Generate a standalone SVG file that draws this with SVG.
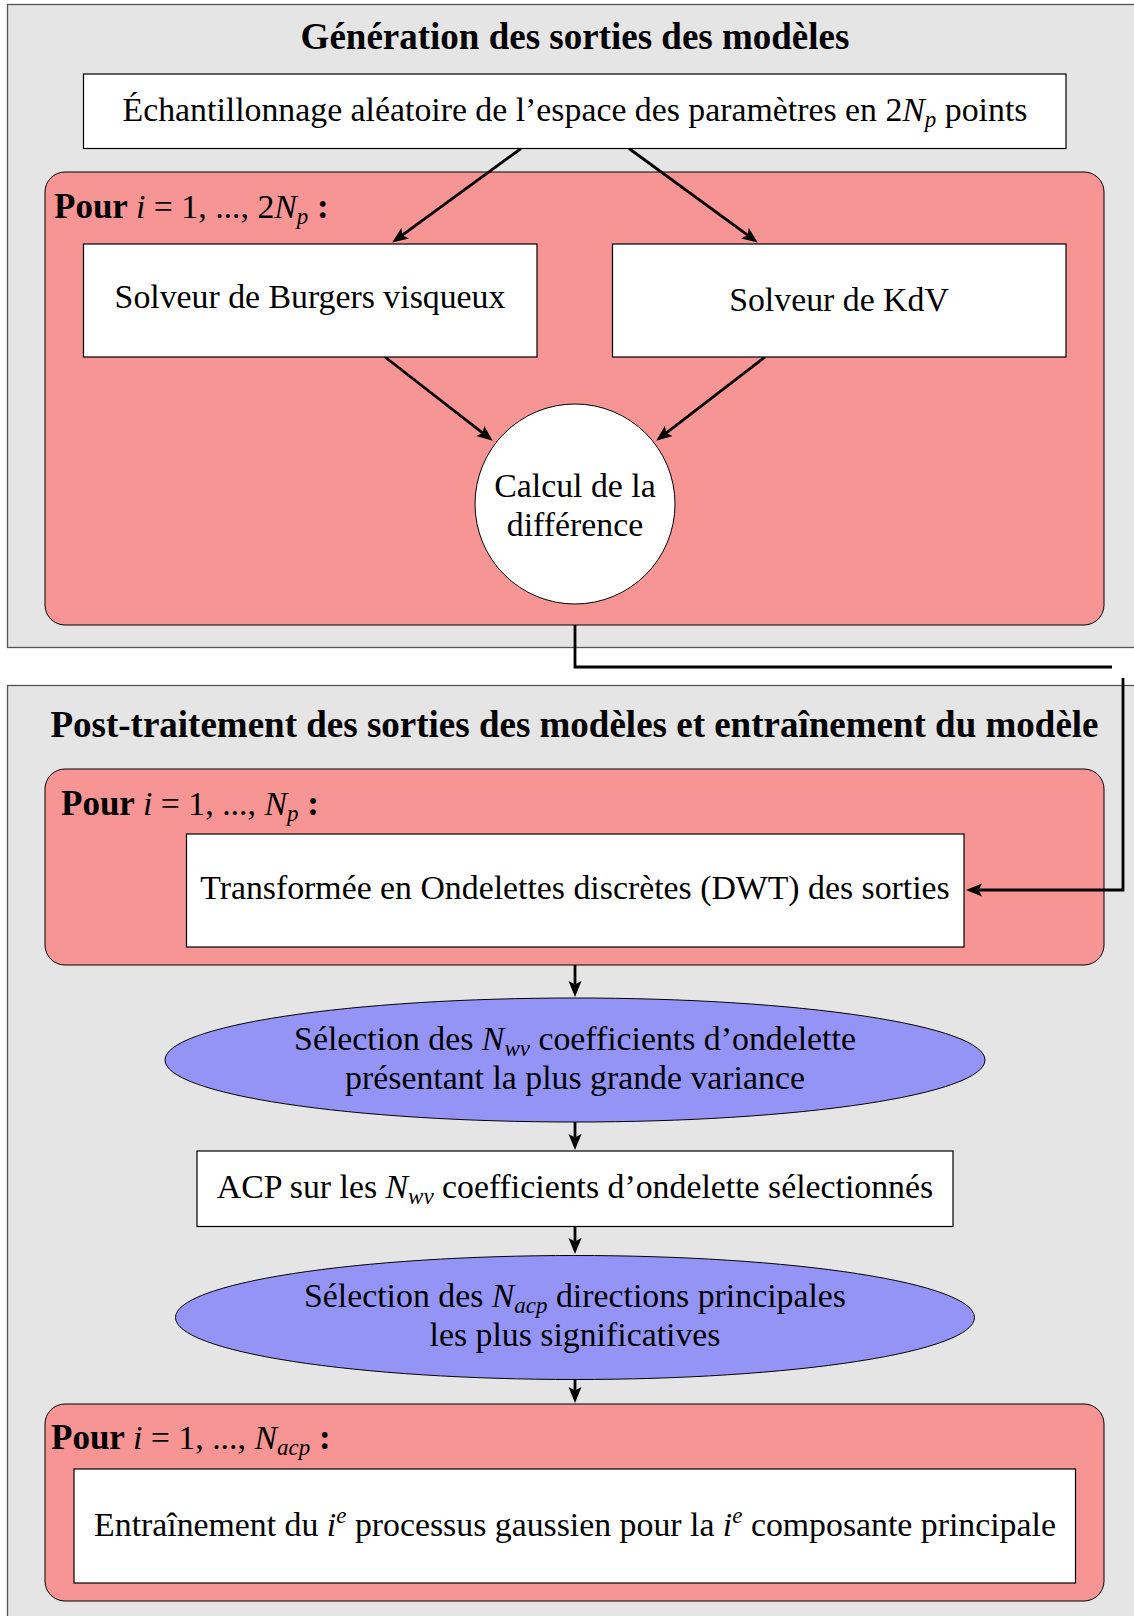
<svg xmlns="http://www.w3.org/2000/svg" width="1134" height="1616" viewBox="0 0 1134 1616">
<style>
.panel{fill:#e5e5e5;stroke:#555;stroke-width:1.3}
.loop{fill:#f79494;stroke:#000;stroke-width:1}
.box{fill:#fff;stroke:#000;stroke-width:1.2}
.ell{fill:#9494f7;stroke:#000;stroke-width:1}
.circ{fill:#fff;stroke:#000;stroke-width:1}
.t{font-family:"Liberation Serif",serif;font-size:33.8px;fill:#000}
.tb{font-family:"Liberation Serif",serif;font-size:37px;font-weight:bold;fill:#000}
.pb{font-family:"Liberation Serif",serif;font-size:35px;font-weight:bold;fill:#000}
.n{font-weight:normal;font-size:33.8px}
.m{font-style:italic;font-weight:normal;font-size:33.8px}
.s{font-style:italic;font-weight:normal;font-size:23px}
.c{text-anchor:middle}
.edge{fill:none;stroke:#000;stroke-width:2.8}
.arr{marker-end:url(#ah)}
</style>
<defs>
<marker id="ah" markerUnits="userSpaceOnUse" markerWidth="18" markerHeight="14" refX="3.5" refY="6.5" orient="auto">
<path d="M0,0 L16,6.5 L0,13 L3.5,6.5 z" fill="#000"/>
</marker>
</defs>
<rect width="1134" height="1616" fill="#fff"/>

<g id="panel-generation">
<rect class="panel" x="7.5" y="4.5" width="1140" height="643"/>
<text class="tb c" x="575" y="49">Génération des sorties des modèles</text>
</g>
<g id="panel-posttraitement">
<rect class="panel" x="7.5" y="685.5" width="1140" height="1000"/>
<text class="tb c" x="574.5" y="737">Post-traitement des sorties des modèles et entraînement du modèle</text>
</g>

<g id="loop1">
<rect class="loop" x="45" y="172" width="1059" height="453" rx="20"/>
<text class="pb" x="54" y="218">Pour <tspan class="m">i</tspan><tspan class="n"> = 1, ..., 2</tspan><tspan class="m">N</tspan><tspan class="s" dy="6">p</tspan><tspan dy="-6"> :</tspan></text>
</g>
<g id="loop2">
<rect class="loop" x="45" y="769" width="1059" height="196" rx="20"/>
<text class="pb" x="61" y="815">Pour <tspan class="m">i</tspan><tspan class="n"> = 1, ..., </tspan><tspan class="m">N</tspan><tspan class="s" dy="6">p</tspan><tspan dy="-6"> :</tspan></text>
</g>
<g id="loop3">
<rect class="loop" x="45" y="1404" width="1059" height="197" rx="20"/>
<text class="pb" x="51" y="1449">Pour <tspan class="m">i</tspan><tspan class="n"> = 1, ..., </tspan><tspan class="m">N</tspan><tspan class="s" dy="6">acp</tspan><tspan dy="-6"> :</tspan></text>
</g>

<g id="connectors">
<path class="edge arr" d="M521,148.5 L402.3,235.2"/>
<path class="edge arr" d="M629,148.5 L747.7,235.2"/>
<path class="edge arr" d="M385,357 L482.9,433.1"/>
<path class="edge arr" d="M765,357 L666.1,433.1"/>
<path class="edge" d="M575,625 V667 H1112"/>
<path class="edge arr" d="M1123,678 V890 H978.5"/>
<path class="edge arr" d="M575,965 V984.5"/>
<path class="edge arr" d="M575,1122 V1137.5"/>
<path class="edge arr" d="M575,1227 V1241.5"/>
<path class="edge arr" d="M575,1380 V1390.5"/>
</g>

<g id="sampling">
<rect class="box" x="83.5" y="74" width="982.5" height="74.5"/>
<text class="t c" x="575" y="121">Échantillonnage aléatoire de l’espace des paramètres en 2<tspan class="m">N</tspan><tspan class="s" dy="6">p</tspan><tspan dy="-6"> points</tspan></text>
</g>
<g id="burgers">
<rect class="box" x="83.5" y="244" width="453.5" height="113"/>
<text class="t c" x="310" y="308">Solveur de Burgers visqueux</text>
</g>
<g id="kdv">
<rect class="box" x="612.5" y="244" width="453.5" height="113"/>
<text class="t c" x="839" y="311">Solveur de KdV</text>
</g>
<g id="difference">
<circle class="circ" cx="575" cy="504" r="100"/>
<text class="t c" x="575" y="497">Calcul de la</text>
<text class="t c" x="575" y="536">différence</text>
</g>
<g id="dwt">
<rect class="box" x="186.5" y="834" width="777.5" height="113"/>
<text class="t c" x="575" y="899">Transformée en Ondelettes discrètes (DWT) des sorties</text>
</g>
<g id="select-wv">
<ellipse class="ell" cx="575" cy="1060" rx="410" ry="62"/>
<text class="t c" x="575" y="1050">Sélection des <tspan class="m">N</tspan><tspan class="s" dy="6">wv</tspan><tspan dy="-6"> coefficients d’ondelette</tspan></text>
<text class="t c" x="575" y="1089">présentant la plus grande variance</text>
</g>
<g id="acp">
<rect class="box" x="197" y="1151" width="756" height="75.5"/>
<text class="t c" x="575" y="1198">ACP sur les <tspan class="m">N</tspan><tspan class="s" dy="6">wv</tspan><tspan dy="-6"> coefficients d’ondelette sélectionnés</tspan></text>
</g>
<g id="select-acp">
<ellipse class="ell" cx="575" cy="1317.5" rx="399.5" ry="62"/>
<text class="t c" x="575" y="1307">Sélection des <tspan class="m">N</tspan><tspan class="s" dy="6">acp</tspan><tspan dy="-6"> directions principales</tspan></text>
<text class="t c" x="575" y="1346">les plus significatives</text>
</g>
<g id="training">
<rect class="box" x="74" y="1469" width="1001.5" height="114"/>
<text class="t c" x="575" y="1536">Entraînement du <tspan class="m">i</tspan><tspan class="s" dy="-13">e</tspan><tspan dy="13"> processus gaussien pour la </tspan><tspan class="m">i</tspan><tspan class="s" dy="-13">e</tspan><tspan dy="13"> composante principale</tspan></text>
</g>
</svg>
